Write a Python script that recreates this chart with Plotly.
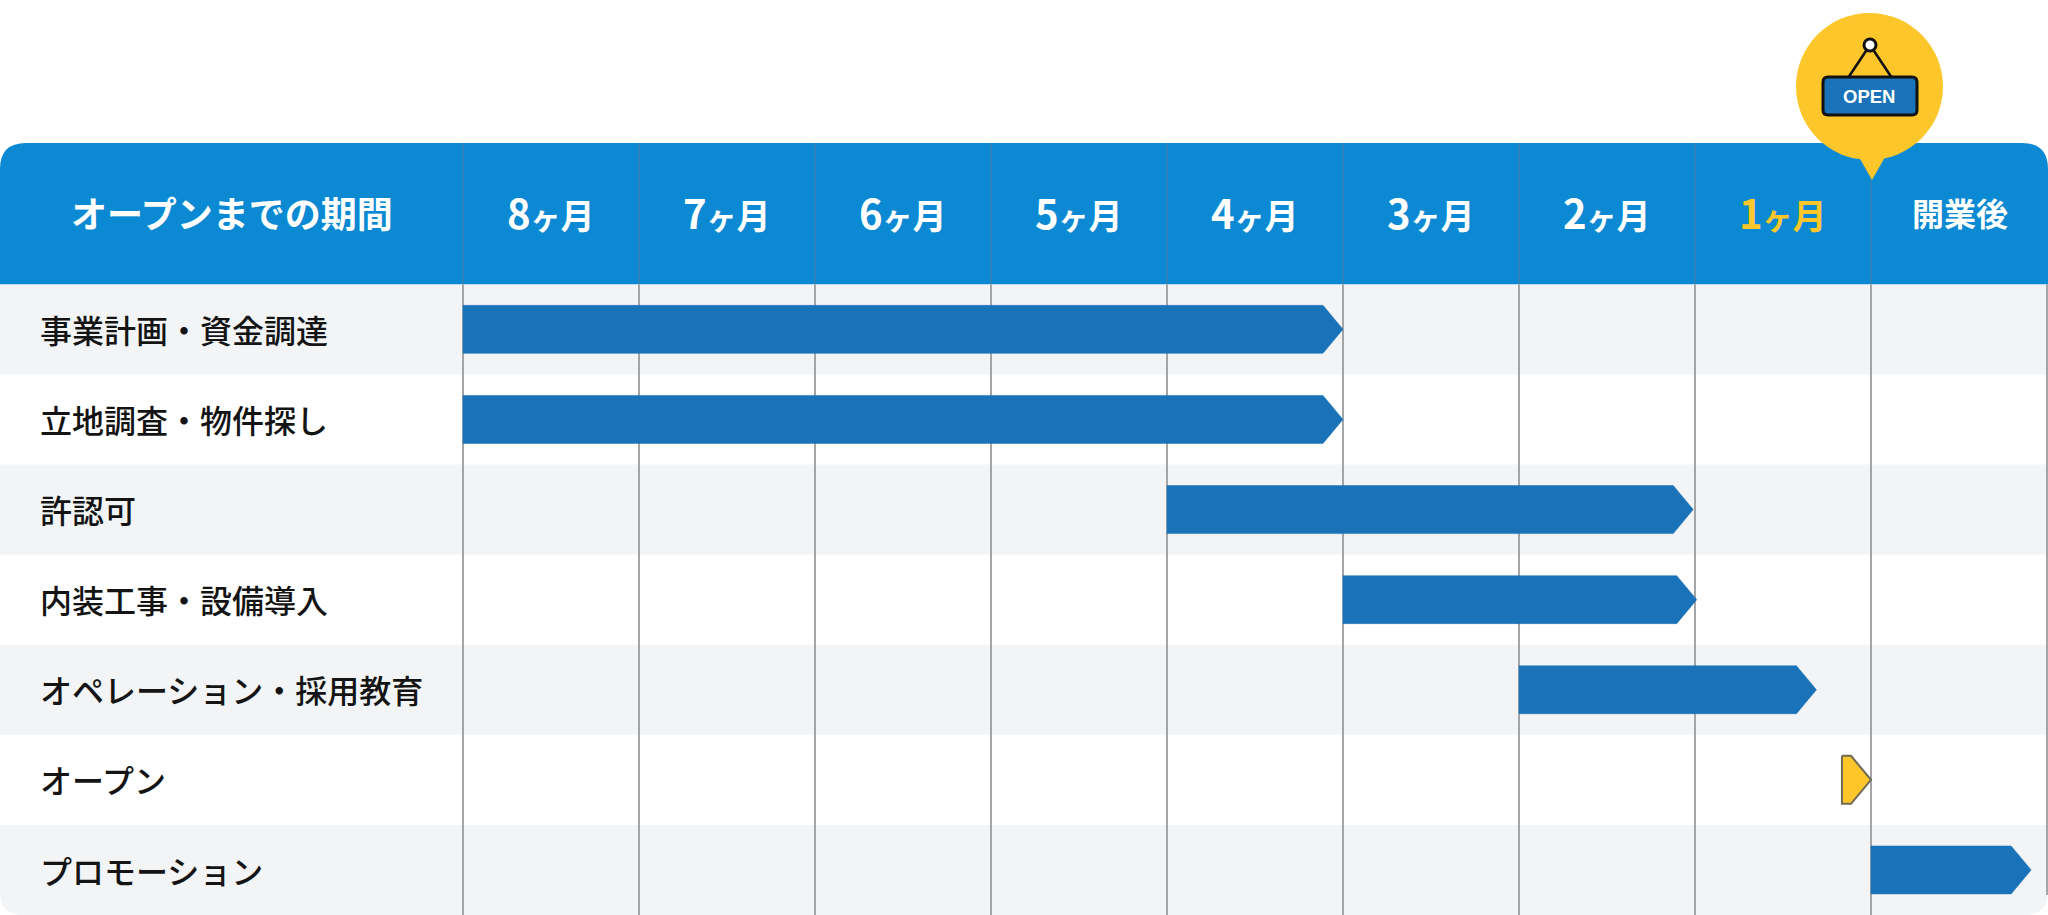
import plotly.graph_objects as go

# ---- data ----
corner_title = "オープンまでの期間"
months = ["8", "7", "6", "5", "4", "3", "2", "1"]
month_suffix = "ヶ月"
after_label = "開業後"
tasks = ["事業計画・資金調達", "立地調査・物件探し", "許認可", "内装工事・設備導入",
         "オペレーション・採用教育", "オープン", "プロモーション"]
starts = [0, 0, 4, 5, 6, 7.835, 8]
ends = [5, 5, 6.99, 7.01, 7.69, 8, 8.91]
task_colors = ["#1a73b8"] * 5 + ["#fdc72c"] + ["#1a73b8"]

W, H = 2048, 915
HEAD_TOP, HEAD_BOT = 143, 284.3
ROW_H = 90.1
X0, MONTH_W = 463, 176
ARROW = 20 / MONTH_W
HALF = 24 / ROW_H

BLUE = "#0b89d3"; BAR = "#1a73b8"; YEL = "#fdc72c"; STRIPE = "#f2f4f6"; GRID = "#a3a5a7"
FONT = "Noto Sans CJK JP"

def px(x): return x / W
def py(y): return 1 - y / H

shapes = []
def paper_path(points_cmds, **kw):
    shapes.append(dict(type="path", xref="paper", yref="paper", path=points_cmds, **kw))

def rrect_top(x0, y0, x1, y1, r):
    return (f"M{px(x0)},{py(y1)} L{px(x0)},{py(y0+r)} Q{px(x0)},{py(y0)} {px(x0+r)},{py(y0)} "
            f"L{px(x1-r)},{py(y0)} Q{px(x1)},{py(y0)} {px(x1)},{py(y0+r)} L{px(x1)},{py(y1)} Z")
def rrect_bot(x0, y0, x1, y1, r):
    return (f"M{px(x0)},{py(y0)} L{px(x1)},{py(y0)} L{px(x1)},{py(y1-r)} Q{px(x1)},{py(y1)} {px(x1-r)},{py(y1)} "
            f"L{px(x0+r)},{py(y1)} Q{px(x0)},{py(y1)} {px(x0)},{py(y1-r)} Z")

# stripes
for i in range(len(tasks)):
    if i % 2 == 0:
        y0 = HEAD_BOT + i * ROW_H
        if i == len(tasks) - 1:
            paper_path(rrect_bot(0, y0, W, H, 24), fillcolor=STRIPE, line_width=0, layer="below")
        else:
            shapes.append(dict(type="rect", xref="paper", yref="paper", x0=0, x1=1, y0=py(y0), y1=py(y0 + ROW_H),
                               fillcolor=STRIPE, line_width=0, layer="below"))
# header
paper_path(rrect_top(0, HEAD_TOP, W, HEAD_BOT, 26), fillcolor=BLUE, line_width=0, layer="below")
# grid lines at month boundaries
for m in range(len(months) + 1):
    shapes.append(dict(type="line", xref="x", yref="paper", x0=m, x1=m, y0=py(HEAD_TOP), y1=py(HEAD_BOT),
                       line=dict(color="#3f7fae", width=1.2), layer="below"))
    shapes.append(dict(type="line", xref="x", yref="paper", x0=m, x1=m, y0=py(HEAD_BOT), y1=0,
                       line=dict(color=GRID, width=2), layer="below"))
shapes.append(dict(type="line", xref="paper", yref="paper", x0=px(2047), x1=px(2047), y0=py(HEAD_BOT), y1=py(H - 20),
                   line=dict(color=GRID, width=2), layer="below"))

fig = go.Figure()
for i, t in enumerate(tasks):
    s, e = starts[i], ends[i]
    c = i + 0.5
    fig.add_trace(go.Scatter(
        x=[s, e - ARROW, e, e - ARROW, s, s],
        y=[c - HALF, c - HALF, c, c + HALF, c + HALF, c - HALF],
        mode="lines", fill="toself", fillcolor=task_colors[i], name=t,
        line=dict(color="#6e6a55" if task_colors[i] == YEL else task_colors[i], width=2 if task_colors[i] == YEL else 0.5),
        hoverinfo="name", showlegend=False))

# badge
shapes.append(dict(type="path", xref="paper", yref="paper", fillcolor=YEL, line_width=0,
                   path=f"M{px(1855)},{py(150)} L{px(1872)},{py(180)} L{px(1889)},{py(150)} Z"))
shapes.append(dict(type="circle", xref="paper", yref="paper", x0=px(1796), x1=px(1943), y0=py(13), y1=py(160),
                   fillcolor=YEL, line_width=0))
for xe in (1848, 1892):
    shapes.append(dict(type="line", xref="paper", yref="paper", x0=px(1870), x1=px(xe), y0=py(45), y1=py(78),
                       line=dict(color="#111111", width=2.6)))
r = 5
shapes.append(dict(type="path", xref="paper", yref="paper", fillcolor=BAR, line=dict(color="#111111", width=3),
    path=(f"M{px(1823+r)},{py(77)} L{px(1917-r)},{py(77)} Q{px(1917)},{py(77)} {px(1917)},{py(77+r)} "
          f"L{px(1917)},{py(115-r)} Q{px(1917)},{py(115)} {px(1917-r)},{py(115)} L{px(1823+r)},{py(115)} "
          f"Q{px(1823)},{py(115)} {px(1823)},{py(115-r)} L{px(1823)},{py(77+r)} Q{px(1823)},{py(77)} {px(1823+r)},{py(77)} Z")))
shapes.append(dict(type="circle", xref="paper", yref="paper", x0=px(1864), x1=px(1876), y0=py(39), y1=py(51),
                   fillcolor="#ffffff", line=dict(color="#111111", width=3)))

ann = []
def text(x, y, s, size, color, anchor="center", bold=False, family=FONT, weight=None, xref="paper", yref="paper"):
    ann.append(dict(x=x, y=y, xref=xref, yref=yref, text=s, showarrow=False, xanchor=anchor, yanchor="middle",
                    font=dict(size=size, color=color, family=family, weight=weight or (700 if bold else 400))))

text(px(232), py(212), corner_title, 36, "#ffffff", bold=True)
for i, m in enumerate(months):
    col = YEL if i == len(months) - 1 else "#ffffff"
    text(i + 0.5, py(212), f'<span style="font-size:40px">{m}</span><span style="font-size:30px">ヶ</span>月', 34, col, bold=True, xref="x")
text(8.505, py(212), after_label, 32, "#ffffff", bold=True, xref="x")
for i, t in enumerate(tasks):
    text(px(38), i + 0.495, t, 32, "#141414", anchor="left", weight=500, yref="y")
text(px(1869), py(97), "OPEN", 18.5, "#ffffff", bold=True, family="Liberation Sans")

fig.update_layout(
    width=W, height=H, margin=dict(l=0, r=0, t=0, b=0), paper_bgcolor="#ffffff", plot_bgcolor="rgba(0,0,0,0)",
    shapes=shapes, annotations=ann, showlegend=False,
    xaxis=dict(range=[-X0 / MONTH_W, (W - X0) / MONTH_W], visible=False, fixedrange=True),
    yaxis=dict(range=[(H - HEAD_BOT) / ROW_H, -HEAD_BOT / ROW_H], visible=False, fixedrange=True),
)
fig.write_html("out.html", post_script="document.body.style.margin='0';document.body.style.overflow='hidden';",
               config=dict(displayModeBar=False))
